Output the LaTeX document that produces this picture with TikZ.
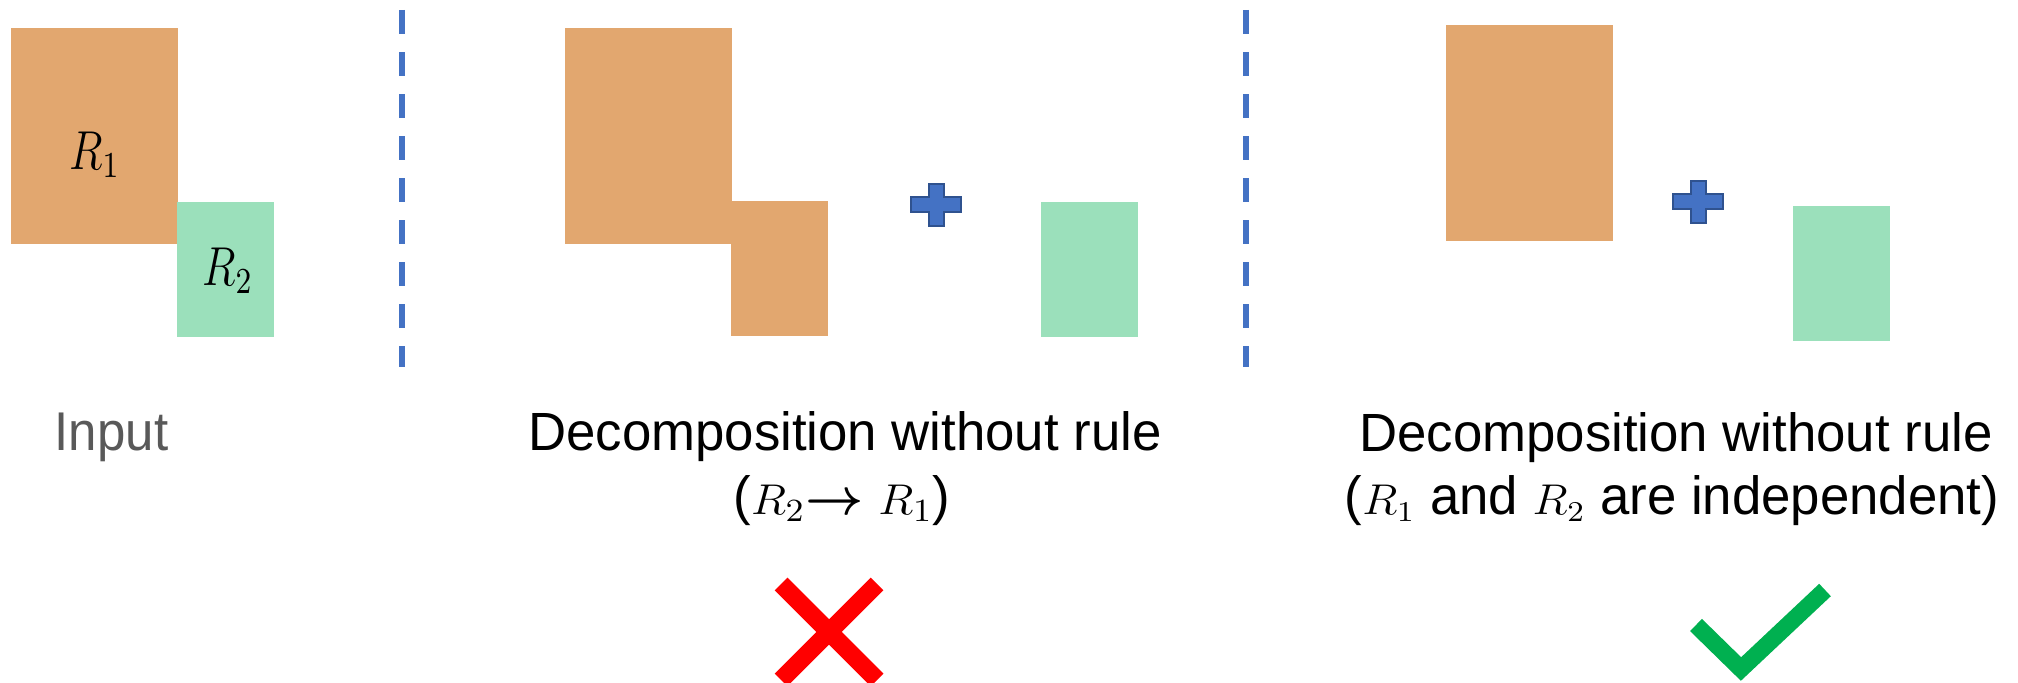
\documentclass[tikz,border=0pt]{standalone}
\usepackage{fontspec}
\setmainfont{Liberation Sans}
\usepackage{amsmath}
\usepackage{graphicx}
\definecolor{regorange}{RGB}{226,167,111}
\definecolor{reggreen}{RGB}{155,224,187}
\definecolor{sepblue}{RGB}{68,114,196}
\definecolor{plusedge}{RGB}{47,82,143}
\definecolor{okgreen}{RGB}{0,176,80}
\definecolor{inputgray}{RGB}{89,89,89}
\usetikzlibrary{positioning, calc}

\newcommand{\tall}[2][1.29]{\scalebox{1}[#1]{#2}}
\newcommand{\rvar}[3][1]{\scalebox{#1}[1]{\fontsize{#2}{#2}\selectfont$R_{#3}$}}
\newcommand{\midarrow}[1]{{\fontsize{#1}{#1}\selectfont$\boldsymbol{\rightarrow}$}}

\begin{document}
\begin{tikzpicture}[x=0.01cm, y=-0.01cm,
  bigbox/.style={inner sep=0pt, anchor=north west, minimum width=1.67cm, minimum height=2.16cm},
  smallbox/.style={inner sep=0pt, anchor=north west, minimum width=0.97cm, minimum height=1.35cm},
  sepline/.style={sepblue, line width=0.06cm, dash pattern=on 0.24cm off 0.18cm},
  plussign/.style={fill=sepblue, draw=plusedge, line width=0.02cm, line join=miter},
  caption/.style={font=\fontsize{15}{18}\selectfont, inner sep=0pt, anchor=base},
  rlabel/.style={inner sep=0pt}]
  \useasboundingbox (0,0) rectangle (2018,683);

  % Input
  \node[bigbox, fill=regorange] (inR1) at (10,27) {};
  \node[smallbox, fill=reggreen] (inR2) at (176,201) {};
  \node[rlabel] (lblR1) at (95,155) {\tall[1.3]{\rvar[1.05]{12}{1}}};
  \node[rlabel] (lblR2) at (228,271) {\tall[1.3]{\rvar[1.05]{12}{2}}};
  \node[caption, font=\fontsize{14.5}{17}\selectfont, text=inputgray] (inCap) at (111.5,451) {\tall[1.07]{Input}};

  % separators
  \coordinate (sepAtop) at (402,10);
  \coordinate (sepAbot) at (402,367);
  \coordinate (sepBtop) at (1246,10);
  \coordinate (sepBbot) at (1246,367);
  \draw[sepline] (sepAtop) -- (sepAbot);
  \draw[sepline] (sepBtop) -- (sepBbot);

  % Decomposition R2 -> R1
  \node[bigbox, fill=regorange] (midA) at (564,27) {};
  \node[smallbox, fill=regorange] (midB) at (730,200) {};
  \node[smallbox, fill=reggreen] (midC) at (1040,201) {};
  \node[caption] (midTitle) at (845,451) {\tall[1.02]{Decomposition without rule}};
  \node[caption] (midSub) at (842,515) {\tall[1.02]{(\rvar[1.1]{12.5}{2}\midarrow{14} \rvar[1.1]{12.5}{1})}};

  % Decomposition, independent
  \node[caption] (rgtTitle) at (1676,452) {\tall[1.02]{Decomposition without rule}};
  \node[caption] (rgtSub) at (1672,515) {\tall[1.02]{(\rvar[1.1]{12}{1} and \rvar[1.1]{12}{2} are independent)}};
  \node[bigbox, fill=regorange] (rgtA) at (1445,24) {};
  \node[smallbox, fill=reggreen] (rgtC) at (1792,205) {};

  % plus signs
  \foreach \cx/\cy in {936/205, 1698/202} {
    \draw[plussign] (\cx-7.5,\cy-21) -- ++(15,0) -- ++(0,13.5) -- ++(17.5,0) -- ++(0,15)
      -- ++(-17.5,0) -- ++(0,13.5) -- ++(-15,0) -- ++(0,-13.5) -- ++(-17.5,0) -- ++(0,-15)
      -- ++(17.5,0) -- cycle;
  }

  % verdicts
  \draw[red, line width=0.18cm] (781,584) -- (877,680);
  \draw[red, line width=0.18cm] (877,584) -- (781,680);
  \draw[okgreen, line width=0.17cm, line join=miter] (1696,625) -- (1741,669) -- (1825,590);
\end{tikzpicture}
\end{document}
